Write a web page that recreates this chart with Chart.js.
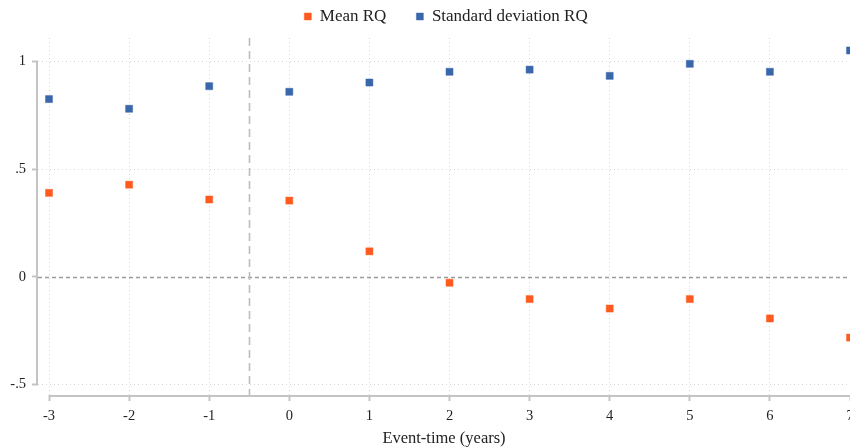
<!DOCTYPE html>
<html>
<head>
<meta charset="utf-8">
<script src="https://cdn.jsdelivr.net/npm/chart.js@4"></script>
<style>
  html, body { margin: 0; padding: 0; background: #fff; }
  #wrap { width: 850px; height: 448px; }
</style>
</head>
<body>
<div id="wrap"><canvas id="myChart"></canvas></div>
<script>
// event time (years)
const eventTime = [-3, -2, -1, 0, 1, 2, 3, 4, 5, 6, 7];
const meanRQ = [0.39, 0.428, 0.359, 0.354, 0.118, -0.028, -0.104, -0.148, -0.104, -0.194, -0.283];
const sdRQ = [0.826, 0.781, 0.886, 0.860, 0.903, 0.953, 0.963, 0.934, 0.990, 0.953, 1.052];
const yTicks = [-0.5, 0, 0.5, 1];
const yTickLabels = ["-.5", "0", ".5", "1"];
const eventLine = -0.5;

const orange = "#ff5a1f";
const blue = "#3a66aa";
const serif = "'Liberation Serif', 'Times New Roman', serif";
const legendPad = 30;

function toPoints(xs, ys) {
    return xs.map((x, i) => ({ x: x, y: ys[i] }));
}

// axis lines only between first and last tick, plus reference lines
const refLines = {
    id: "refLines",
    beforeLayout(chart) {
        const lg = chart.legend;
        if (lg && !lg._fixedFit) {
            const fit = lg.fit.bind(lg);
            lg.fit = function () { fit(); this.height = 38; };
            lg._fixedFit = true;
        }
    },
    afterLayout(chart) {
        const lg = chart.legend;
        if (lg) {
            lg.left += 21; lg.right += 21;
            lg.top = 17 - legendPad - 9; lg.bottom = 38;
        }
    },
    beforeDatasetsDraw(chart) {
        const ctx = chart.ctx;
        const xs = chart.scales.x, ys = chart.scales.y;
        const area = chart.chartArea;
        ctx.save();
        // zero line
        ctx.strokeStyle = "#9a9a9a";
        ctx.lineWidth = 1.3;
        ctx.setLineDash([4, 3]);
        let y0 = Math.round(ys.getPixelForValue(0)) + 0.5;
        ctx.beginPath();
        ctx.moveTo(area.left, y0);
        ctx.lineTo(area.right, y0);
        ctx.stroke();
        // event line
        ctx.strokeStyle = "#bdbdbd";
        ctx.lineWidth = 1.6;
        ctx.setLineDash([8, 5]);
        let xe = Math.round(xs.getPixelForValue(eventLine)) + 0.5;
        ctx.beginPath();
        ctx.moveTo(xe, area.top);
        ctx.lineTo(xe, area.bottom);
        ctx.stroke();
        // axis lines
        ctx.setLineDash([]);
        ctx.strokeStyle = "#c4c4c4";
        ctx.lineWidth = 2;
        ctx.beginPath();
        ctx.moveTo(area.left - 1, ys.getPixelForValue(yTicks[yTicks.length - 1]));
        ctx.lineTo(area.left - 1, ys.getPixelForValue(yTicks[0]));
        ctx.moveTo(xs.getPixelForValue(eventTime[0]), area.bottom + 1);
        ctx.lineTo(area.right, area.bottom + 1);
        ctx.stroke();
        ctx.restore();
    }
};

const config = {
    type: "scatter",
    data: {
        datasets: [
            {
                label: "Mean RQ",
                data: toPoints(eventTime, meanRQ),
                backgroundColor: orange,
                borderColor: "rgba(255,90,31,0.45)",
                borderWidth: 1,
                pointStyle: "rect",
                pointRadius: 5,
                pointHoverRadius: 5
            },
            {
                label: "Standard deviation RQ",
                data: toPoints(eventTime, sdRQ),
                backgroundColor: blue,
                borderColor: "rgba(58,102,170,0.45)",
                borderWidth: 1,
                pointStyle: "rect",
                pointRadius: 5,
                pointHoverRadius: 5
            }
        ]
    },
    options: {
        responsive: true,
        maintainAspectRatio: false,
        animation: false,
        clip: false,
        layout: { padding: 0, autoPadding: false },
        plugins: {
            legend: {
                position: "top",
                labels: {
                    usePointStyle: true,
                    pointStyle: "rect",
                    boxWidth: 7,
                    boxHeight: 7,
                    padding: legendPad,
                    color: "#222",
                    font: { family: serif, size: 17 }
                }
            },
            tooltip: { enabled: false }
        },
        scales: {
            x: {
                type: "linear",
                min: -3.1375,
                max: 7,
                afterBuildTicks: (axis) => { axis.ticks = eventTime.map(v => ({ value: v })); },
                afterFit: (axis) => {
                    axis.height = 53;
                    axis.paddingLeft = 0;
                    axis.paddingRight = 0;
                },
                ticks: {
                    color: "#222",
                    font: { family: serif, size: 14.5 },
                    padding: 6,
                    maxRotation: 0,
                    autoSkip: false,
                    callback: (v) => String(v)
                },
                grid: {
                    color: "#d6d6d6",
                    lineWidth: 1,
                    tickLength: 6,
                    tickColor: "#c4c4c4",
                    tickWidth: 2,
                    tickBorderDash: []
                },
                border: { display: false, dash: [1, 3] },
                title: {
                    display: true,
                    text: "Event-time (years)",
                    color: "#222",
                    font: { family: serif, size: 16.5 },
                    padding: { top: 0, bottom: -1 }
                }
            },
            y: {
                min: -0.55,
                max: 1.11,
                afterBuildTicks: (axis) => { axis.ticks = yTicks.map(v => ({ value: v })); },
                afterFit: (axis) => {
                    axis.width = 38;
                    axis.paddingTop = 0;
                    axis.paddingBottom = 0;
                },
                ticks: {
                    color: "#222",
                    font: { family: serif, size: 14.5 },
                    padding: 6,
                    autoSkip: false,
                    callback: (v) => {
                        const i = yTicks.indexOf(v);
                        return i >= 0 ? yTickLabels[i] : "";
                    }
                },
                grid: {
                    color: (c) => (c.tick && c.tick.value === 0) ? "rgba(0,0,0,0)" : "#d6d6d6",
                    lineWidth: 1,
                    tickLength: 6,
                    tickColor: "#c4c4c4",
                    tickWidth: 2,
                    tickBorderDash: []
                },
                border: { display: false, dash: [1, 3] }
            }
        }
    },
    plugins: [refLines]
};

window.onload = function () {
    const myChart = document.getElementById("myChart");
    new Chart(myChart, config);
};
</script>
</body>
</html>
